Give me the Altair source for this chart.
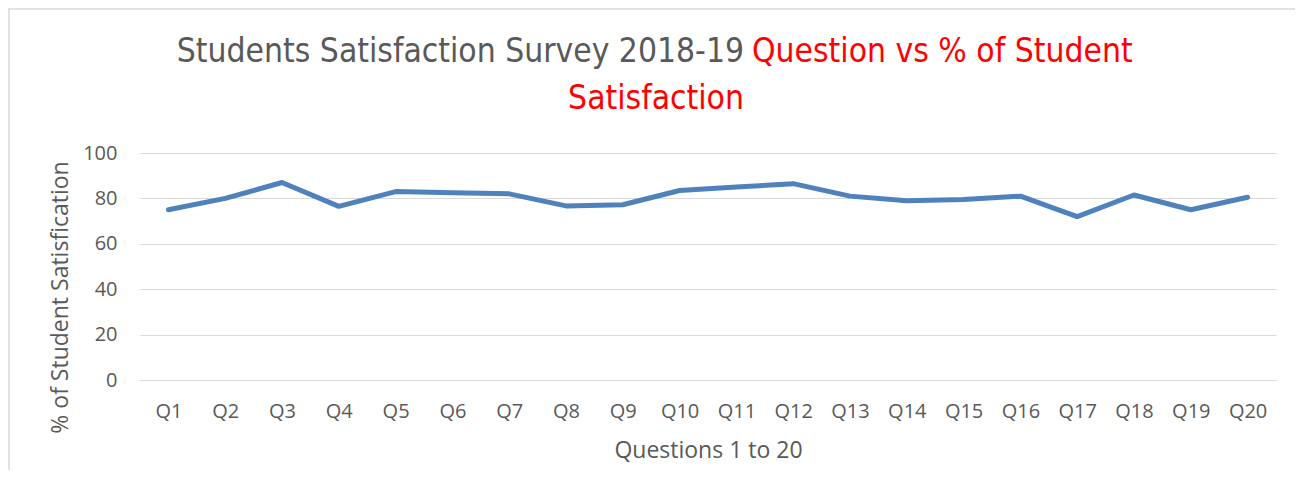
import altair as alt
import pandas as pd

questions = [f"Q{i}" for i in range(1, 21)]
satisfaction = [75, 80, 87, 76.5, 83, 82.5, 82, 76.7, 77.2, 83.5,
                85, 86.5, 81, 79, 79.5, 81, 72, 81.5, 75, 80.5]
title_grey = "Students Satisfaction Survey 2018-19"
title_red_1 = "Question vs % of Student"
title_red_2 = "Satisfaction"
x_title = "Questions 1 to 20"
y_title = "% of Student Satisfication"
y_ticks = [0, 20, 40, 60, 80, 100]

df = pd.DataFrame({"question": questions, "value": satisfaction})

W, H = 1136, 227
FONT = "Open Sans"
TFONT = "'DejaVu Sans Condensed', 'Open Sans', sans-serif"
GREY = "#595959"

line = alt.Chart(df).mark_line(color="#4f81bd", strokeWidth=5, strokeCap="round", strokeJoin="round").encode(
    x=alt.X("question:O", sort=questions, scale=alt.Scale(type="point", padding=0.5),
            axis=alt.Axis(title=x_title, labelAngle=0, ticks=False, tickSize=0, domain=True,
                          domainColor="#d9d9d9", labelPadding=21, labelFontSize=20,
                          labelColor=GREY, labelFont=FONT, titleFont=FONT, titleFontSize=23,
                          titleColor=GREY, titleFontWeight="normal", titleY=70,
                          titleBaseline="middle", grid=False)),
    y=alt.Y("value:Q", scale=alt.Scale(domain=[0, 100]),
            axis=alt.Axis(title=y_title, values=y_ticks, ticks=False, tickSize=0, domain=False,
                          gridColor="#d9d9d9", gridWidth=1, labelPadding=23, labelFontSize=20,
                          labelColor=GREY, labelFont=FONT, titleFont=FONT, titleFontSize=23,
                          titleColor=GREY, titleFontWeight="normal", titleX=-80, titleY=144,
                          titleAlign="center", titleBaseline="middle", titleAngle=270)),
)

one = pd.DataFrame({"a": [0]})

border = alt.Chart(one).mark_rect(fillOpacity=0, stroke="#d9d9d9", strokeWidth=1.5).encode(
    x=alt.value(-131), x2=alt.value(W + 60), y=alt.value(-144), y2=alt.value(H + 150)
)

t1 = alt.Chart(pd.DataFrame({"t": [title_grey]})).mark_text(
    font=TFONT, fontSize=33.3, color=GREY, align="right", baseline="alphabetic"
).encode(text="t:N", x=alt.value(604), y=alt.value(-91))

t2 = alt.Chart(pd.DataFrame({"t": [title_red_1]})).mark_text(
    font=TFONT, fontSize=33.3, color="#ff0000", align="left", baseline="alphabetic"
).encode(text="t:N", x=alt.value(612), y=alt.value(-91))

t3 = alt.Chart(pd.DataFrame({"t": [title_red_2]})).mark_text(
    font=TFONT, fontSize=33.3, color="#ff0000", align="center", baseline="alphabetic"
).encode(text="t:N", x=alt.value(516), y=alt.value(-44))

chart = alt.layer(border, line, t1, t2, t3).properties(
    width=W, height=H,
    autosize=alt.AutoSizeParams(type="none"),
    padding={"left": 132, "top": 145, "right": 19, "bottom": 90},
).configure_view(stroke=None)

chart.save("out.html", embed_options={"renderer": "svg", "actions": False})
